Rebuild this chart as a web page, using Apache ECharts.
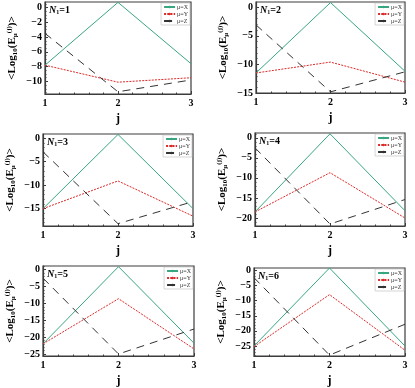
<!DOCTYPE html>
<html>
<head>
<meta charset="utf-8">
<script src="https://cdn.jsdelivr.net/npm/echarts@6/dist/echarts.min.js"></script>
<style>
    html, body { margin: 0; padding: 0; background: #fff; }
    #chart { width: 415px; height: 388px; }
</style>
</head>
<body>
<div id="chart"></div>
<script type="text/javascript">
    // j values on the x axis
    var jValues = [1, 2, 3];

    // <Log10(E)> per panel
    var xN1 = [-7.8, 0.7, -7.6];
    var yN1 = [-7.8, -10.1, -9.5];
    var zN1 = [-3.5, -11.4, -9.8];

    var xN2 = [-11.5, 0.8, -11.2];
    var yN2 = [-11.5, -9.6, -13.1];
    var zN2 = [-3.1, -14.8, -11.3];

    var xN3 = [-15, 0.8, -15];
    var yN3 = [-15, -9.1, -16.6];
    var zN3 = [-2.9, -18.2, -13.5];

    var xN4 = [-18.5, 1.0, -18.2];
    var yN4 = [-18.5, -8.7, -20];
    var zN4 = [-2.5, -21.5, -15.4];

    var xN5 = [-22, 0.9, -21.8];
    var yN5 = [-22, -8.6, -23.5];
    var zN5 = [-2.5, -25, -17.6];

    var xN6 = [-25, 0.8, -25];
    var yN6 = [-25.2, -8, -26.4];
    var zN6 = [-2.4, -28, -17.8];

    // y tick labels per panel
    var ticksN1 = [-10, -8, -6, -4, -2, 0];
    var ticksN2 = [-15, -10, -5, 0];
    var ticksN3 = [-15, -10, -5, 0];
    var ticksN4 = [-20, -15, -10, -5, 0];
    var ticksN5 = [-25, -20, -15, -10, -5, 0];
    var ticksN6 = [-25, -20, -15, -10, -5, 0];

    var panels = [
        {n: 1, x: xN1, y: yN1, z: zN1, ticks: ticksN1, minor: 0.5, min: -11.7, max: 0.75, box: [45, 2, 146, 92]},
        {n: 2, x: xN2, y: yN2, z: zN2, ticks: ticksN2, minor: 1, min: -15, max: 0.9, box: [256, 2, 149, 91]},
        {n: 3, x: xN3, y: yN3, z: zN3, ticks: ticksN3, minor: 1, min: -18.7, max: 0.9, box: [43, 134, 150, 92]},
        {n: 4, x: xN4, y: yN4, z: zN4, ticks: ticksN4, minor: 1, min: -22, max: 1.2, box: [255, 133, 150, 93]},
        {n: 5, x: xN5, y: yN5, z: zN5, ticks: ticksN5, minor: 1, min: -25.6, max: 1.1, box: [43, 266, 151, 99]},
        {n: 6, x: xN6, y: yN6, z: zN6, ticks: ticksN6, minor: 1, min: -28.3, max: 0.8, box: [254, 268, 151, 98]}
    ];

    var serif = '"Liberation Serif", "DejaVu Serif", serif';
    var frameColor = '#3c3c3c';
    var green = '#38a77f';

    function minus(v) {
        return String(v).replace('-', '\u2212');
    }

    function minorList(p) {
        var out = [];
        var start = Math.ceil(p.min / p.minor) * p.minor;
        for (var v = start; v <= p.max + 1e-9; v += p.minor) {
            out.push(Math.round(v * 100) / 100);
        }
        return out;
    }

    function pairs(vals) {
        var out = [];
        for (var i = 0; i < jValues.length; i++) out.push([jValues[i], vals[i]]);
        return out;
    }

    var grid = [], xAxis = [], yAxis = [], series = [], legend = [], graphic = [];

    panels.forEach(function (p, k) {
        var b = p.box;
        grid.push({left: b[0], top: b[1], width: b[2], height: b[3],
            show: true, borderColor: frameColor, borderWidth: 1.2});

        // bottom axis with labels
        xAxis.push({
            gridIndex: k, type: 'value', min: 1, max: 3, interval: 1,
            name: 'j', nameLocation: 'middle', nameGap: 19,
            nameTextStyle: {fontFamily: serif, fontWeight: 'bold', fontSize: 12, color: '#000'},
            axisLine: {onZero: false, lineStyle: {color: frameColor, width: 1.2}},
            axisTick: {inside: true, length: 3, lineStyle: {color: frameColor}},
            minorTick: {show: true, splitNumber: 5, length: 1.5, lineStyle: {color: frameColor}},
            axisLabel: {fontFamily: serif, fontWeight: 'bold', fontSize: 10, color: '#000', margin: 4},
            splitLine: {show: false}
        });

        // left axis with labels and major ticks
        yAxis.push({
            gridIndex: k, type: 'value', min: p.min, max: p.max,
            name: '<Log{s|10}(E{s|\u03bc}{t|(j)})>',
            nameLocation: 'middle', nameRotate: 90, nameGap: 26,
            nameTextStyle: {
                fontFamily: serif, fontWeight: 'bold', fontSize: 11, color: '#000',
                rich: {
                    s: {fontFamily: serif, fontWeight: 'bold', fontSize: 7, color: '#000', padding: [5, 0, 0, 0]},
                    t: {fontFamily: serif, fontWeight: 'bold', fontSize: 7, color: '#000', padding: [0, 0, 6, 0]}
                }
            },
            axisLine: {show: true, onZero: false, lineStyle: {color: frameColor, width: 1.2}},
            axisTick: {show: true, inside: true, length: 3, customValues: p.ticks, lineStyle: {color: frameColor}},
            axisLabel: {customValues: p.ticks, fontFamily: serif, fontWeight: 'bold', fontSize: 10,
                color: '#000', margin: 3, formatter: minus},
            splitLine: {show: false}
        });
        // same left axis again, only the minor ticks
        yAxis.push({
            gridIndex: k, type: 'value', min: p.min, max: p.max, position: 'left',
            axisLine: {show: false, onZero: false},
            axisTick: {show: true, inside: true, length: 1.5, customValues: minorList(p), lineStyle: {color: frameColor}},
            axisLabel: {show: false},
            splitLine: {show: false}
        });

        var yi = k * 2;
        series.push({
            name: '\u03bc=X', type: 'line', xAxisIndex: k, yAxisIndex: yi, data: pairs(p.x),
            symbol: 'none', lineStyle: {color: green, width: 1}, itemStyle: {color: green}
        });
        series.push({
            name: '\u03bc=Y', type: 'line', xAxisIndex: k, yAxisIndex: yi, data: pairs(p.y),
            symbol: 'none', lineStyle: {color: '#dc2a2a', width: 1, type: [2, 1.2]}, itemStyle: {color: '#dc2a2a'}
        });
        series.push({
            name: '\u03bc=Z', type: 'line', xAxisIndex: k, yAxisIndex: yi, data: pairs(p.z),
            symbol: 'none', lineStyle: {color: '#333', width: 1, type: [8, 6]}, itemStyle: {color: '#333'}
        });

        legend.push({
            data: ['\u03bc=X', '\u03bc=Y', '\u03bc=Z'],
            orient: 'vertical', selectedMode: false,
            right: 415 - (b[0] + b[2]) + 1, top: b[1] + 1,
            itemWidth: 11, itemHeight: 3, itemGap: 1, padding: [1, 2, 1, 2],
            borderColor: '#bbb', borderWidth: 0.6, backgroundColor: '#fff',
            textStyle: {fontFamily: serif, fontSize: 6, color: '#333', padding: [0, 0, 0, -3]}
        });

        graphic.push({
            type: 'text', left: b[0] + 4, top: b[1] + 3,
            style: {
                text: '{i|N}{s|1}{n|=' + p.n + '}',
                rich: {
                    i: {fontFamily: serif, fontStyle: 'italic', fontWeight: 'bold', fontSize: 10, fill: '#000'},
                    s: {fontFamily: serif, fontWeight: 'bold', fontSize: 6, fill: '#000', padding: [4, 0, 0, 0]},
                    n: {fontFamily: serif, fontWeight: 'bold', fontSize: 10, fill: '#000'}
                }
            }
        });
    });

    var chart = echarts.init(document.getElementById('chart'));
    chart.setOption({
        animation: false,
        backgroundColor: '#fff',
        grid: grid,
        xAxis: xAxis,
        yAxis: yAxis,
        legend: legend,
        graphic: graphic,
        series: series
    });
</script>
</body>
</html>
